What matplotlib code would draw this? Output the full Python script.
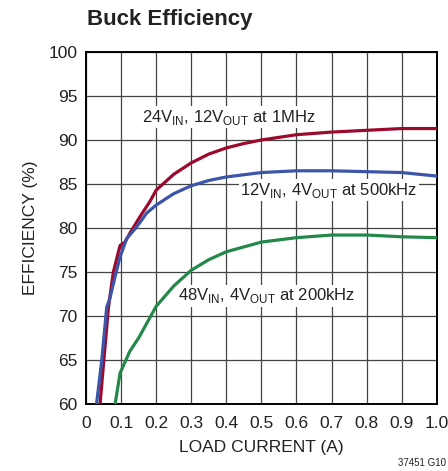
from matplotlib import pyplot as plt
import numpy as np

plt.rcParams['font.family'] = ['Liberation Sans', 'DejaVu Sans']
plt.rcParams['mathtext.fontset'] = 'custom'
plt.rcParams['mathtext.rm'] = 'Liberation Sans'

# 24VIN, 12VOUT at 1MHz
x_24 = [0.04, 0.064, 0.078, 0.097, 0.111, 0.125, 0.154, 0.182, 0.2, 0.25, 0.3,
        0.35, 0.4, 0.45, 0.5, 0.55, 0.6, 0.7, 0.8, 0.9, 1.0]
y_24 = [60, 71, 75, 78, 78.4, 79.4, 81.3, 83, 84.3, 86.1, 87.4,
        88.4, 89.1, 89.6, 90.0, 90.3, 90.6, 90.9, 91.1, 91.3, 91.3]

# 12VIN, 4VOUT at 500kHz
x_12 = [0.03, 0.045, 0.059, 0.068, 0.083, 0.097, 0.116, 0.144, 0.173, 0.2, 0.25,
        0.3, 0.35, 0.4, 0.5, 0.6, 0.7, 0.8, 0.9, 1.0]
y_12 = [60, 65, 71, 72, 74.5, 76.7, 78.8, 80.1, 81.7, 82.6, 83.9,
        84.8, 85.4, 85.8, 86.3, 86.5, 86.5, 86.4, 86.3, 85.9]

# 48VIN, 4VOUT at 200kHz
x_48 = [0.083, 0.097, 0.125, 0.15, 0.2, 0.25, 0.3, 0.35, 0.4, 0.5, 0.6, 0.7,
        0.8, 0.9, 1.0]
y_48 = [60, 63.5, 66, 67.5, 71.1, 73.4, 75.2, 76.4, 77.3, 78.4, 78.9, 79.2,
        79.2, 79.0, 78.9]

xticks = np.arange(0, 1.01, 0.1)
xlabels = ['0'] + ['%.1f' % v for v in xticks[1:]]
yticks = np.arange(60, 101, 5)

fig = plt.figure(figsize=(4.48, 4.71), dpi=100)
ax = fig.add_axes([0.192, 0.1423, 0.783, 0.7473])

ax.plot(x_24, y_24, color='#9b0a2e', lw=2.3, zorder=3)
ax.plot(x_12, y_12, color='#3c55a8', lw=2.3, zorder=3)
ax.plot(x_48, y_48, color='#23884a', lw=2.3, zorder=3)

ax.set_xlim(0, 1.0)
ax.set_ylim(60, 100)
ax.set_xticks(xticks)
ax.set_xticklabels(xlabels)
ax.set_yticks(yticks)
ax.tick_params(length=0, labelsize=12.5, colors='#222222')
ax.tick_params(axis='x', pad=9)
ax.tick_params(axis='y', pad=6)
ax.grid(True, color='#444444', lw=0.9)
for s in ax.spines.values():
    s.set_linewidth(1.4)

box = dict(facecolor='white', edgecolor='none', pad=1)
ax.text(0.16, 92.6, r'24V$_{\mathrm{IN}}$, 12V$_{\mathrm{OUT}}$ at 1MHz',
        fontsize=12, va='center', ha='left', bbox=box, zorder=2, color='#222222')
ax.text(0.44, 84.3, r'12V$_{\mathrm{IN}}$, 4V$_{\mathrm{OUT}}$ at 500kHz',
        fontsize=12, va='center', ha='left', bbox=box, zorder=2, color='#222222')
ax.text(0.262, 72.3, r'48V$_{\mathrm{IN}}$, 4V$_{\mathrm{OUT}}$ at 200kHz',
        fontsize=12, va='center', ha='left', bbox=box, zorder=2, color='#222222')

ax.set_xlabel('LOAD CURRENT (A)', fontsize=12.5, labelpad=6, color='#222222')
ax.set_ylabel('EFFICIENCY (%)', fontsize=12.5, labelpad=8, color='#222222')

fig.text(0.194, 0.958, 'Buck Efficiency', fontsize=16, fontweight='bold',
         ha='left', va='center', color='#222222')
fig.text(0.995, 0.018, '37451 G10', fontsize=7, ha='right', va='center',
         color='#222222')

fig.savefig('out.png', dpi=100)
